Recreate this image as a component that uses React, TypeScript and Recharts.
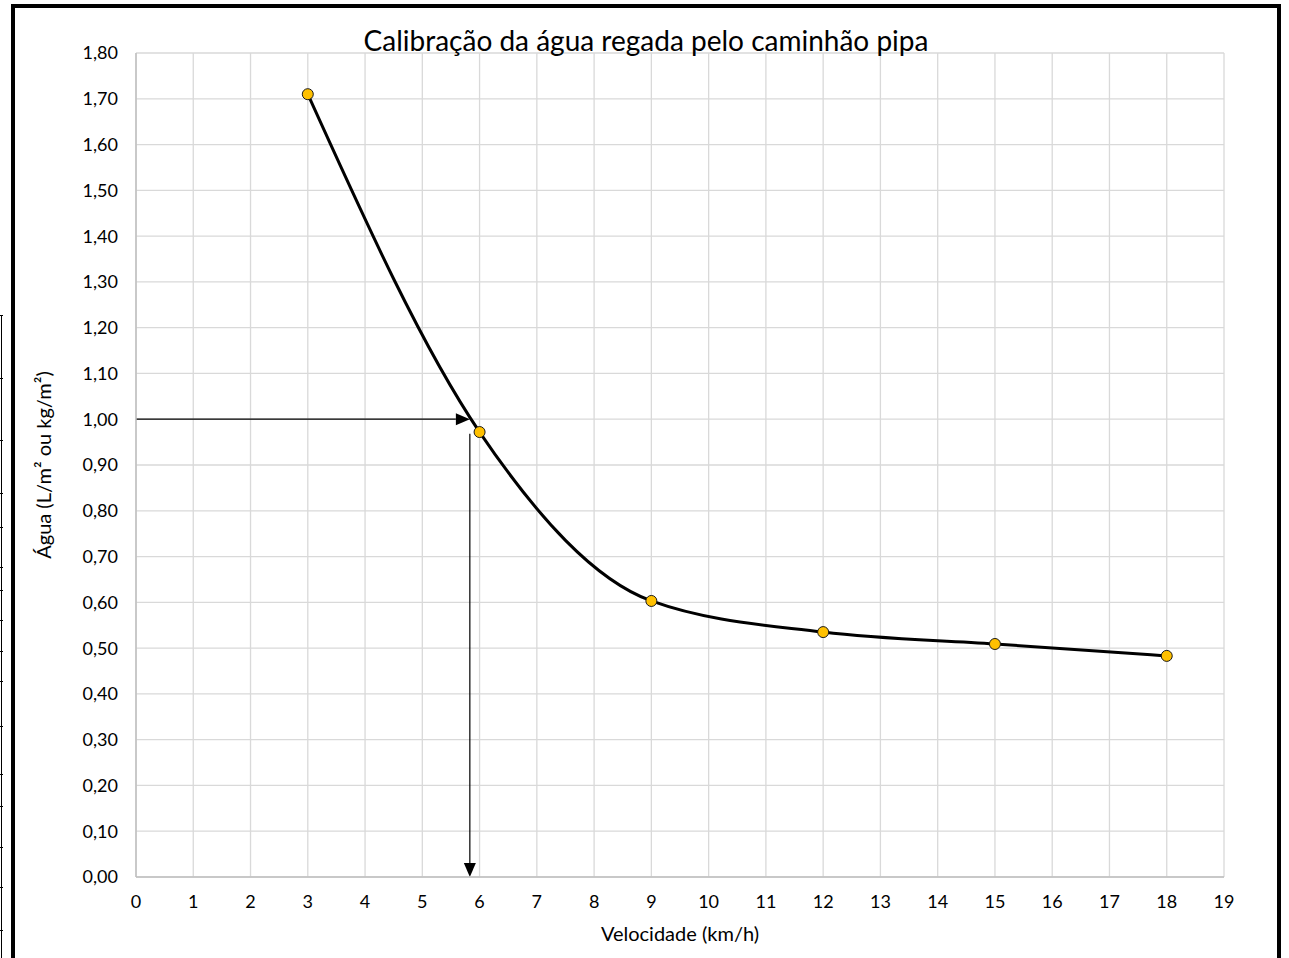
import React from 'react'
import {
  LineChart,
  Line,
  XAxis,
  YAxis,
  CartesianGrid,
  ReferenceLine,
} from 'recharts'

const velocidade = [3, 6, 9, 12, 15, 18]
const agua = [1.71, 0.972, 0.603, 0.535, 0.509, 0.483]

const xTicks = [0, 1, 2, 3, 4, 5, 6, 7, 8, 9, 10, 11, 12, 13, 14, 15, 16, 17, 18, 19]
const yTicks = [0, 0.1, 0.2, 0.3, 0.4, 0.5, 0.6, 0.7, 0.8, 0.9, 1.0, 1.1, 1.2, 1.3, 1.4, 1.5, 1.6, 1.7, 1.8]

// leitura no gráfico: 1,00 L/m² -> ~5,83 km/h
const leituraX = [0, 5.83]
const leituraY = [1.0, 0.968, 0]

// linhas das células da planilha atrás do gráfico
const cellLines = [315, 378, 440, 493, 527, 567, 590, 620, 651, 681, 726, 774, 806, 847, 887, 930]

const data = velocidade.map((v, i) => ({ v, a: agua[i] }))

const fmtY = (n: number) => n.toFixed(2).replace('.', ',')

const FONT = 'Lato, "Open Sans", sans-serif'

const Arrow = (props: any) => {
  const { x1, y1, x2, y2 } = props
  if ([x1, y1, x2, y2].some((n) => n == null || isNaN(n))) return null
  const ang = Math.atan2(y2 - y1, x2 - x1)
  const len = 14
  const half = 6
  const bx = x2 - len * Math.cos(ang)
  const by = y2 - len * Math.sin(ang)
  const px = -Math.sin(ang) * half
  const py = Math.cos(ang) * half
  return (
    <g>
      <line x1={x1} y1={y1} x2={bx} y2={by} stroke="#000" strokeWidth={1.2} />
      <polygon
        points={`${x2},${y2} ${bx + px},${by + py} ${bx - px},${by - py}`}
        fill="#000"
      />
    </g>
  )
}

export default function App() {
  return (
    <div style={PageStyle}>
      {cellLines.map((y) => (
        <div key={y} style={{ ...CellTick, top: y }} />
      ))}
      <div style={CellEdge} />
      <div style={FrameStyle} />
      <div style={TitleStyle}>Calibração da água regada pelo caminhão pipa</div>
      <div style={{ position: 'absolute', left: 0, top: 0 }}>
        <LineChart
          width={1289}
          height={958}
          data={data}
          margin={{ top: 53, right: 65, left: 36, bottom: 11 }}
          style={{ fontFamily: FONT }}
        >
          <CartesianGrid stroke="#d9d9d9" strokeWidth={1.3} />
          <XAxis
            dataKey="v"
            type="number"
            domain={[0, 19]}
            ticks={xTicks}
            interval={0}
            height={70}
            tickLine={false}
            tickMargin={12}
            axisLine={{ stroke: '#bfbfbf', strokeWidth: 1.5 }}
            tick={{ fill: '#000', fontSize: 18 }}
            label={{
              value: 'Velocidade (km/h)',
              position: 'insideBottom',
              offset: 6,
              fill: '#000',
              fontSize: 20,
            }}
          />
          <YAxis
            type="number"
            domain={[0, 1.8]}
            ticks={yTicks}
            interval={0}
            width={100}
            tickLine={false}
            tickMargin={12}
            tickFormatter={fmtY}
            axisLine={{ stroke: '#bfbfbf', strokeWidth: 1.5 }}
            tick={{ fill: '#000', fontSize: 18 }}
            label={{
              value: 'Água (L/m² ou kg/m²)',
              angle: -90,
              position: 'insideLeft',
              offset: 8,
              fill: '#000',
              fontSize: 20,
              style: { textAnchor: 'middle' },
            }}
          />
          <ReferenceLine
            segment={[
              { x: leituraX[0], y: leituraY[0] },
              { x: leituraX[1], y: leituraY[0] },
            ]}
            shape={Arrow}
          />
          <ReferenceLine
            segment={[
              { x: leituraX[1], y: leituraY[1] },
              { x: leituraX[1], y: leituraY[2] },
            ]}
            shape={Arrow}
          />
          <Line
            type="monotone"
            dataKey="a"
            stroke="#000"
            strokeWidth={3}
            dot={{ r: 5.5, fill: '#FFC000', stroke: '#1a1a1a', strokeWidth: 1 }}
            isAnimationActive={false}
          />
        </LineChart>
      </div>
    </div>
  )
}

const PageStyle: React.CSSProperties = {
  position: 'absolute',
  left: 0,
  top: 0,
  width: 1289,
  height: 958,
  overflow: 'hidden',
  background: '#fff',
}

const FrameStyle: React.CSSProperties = {
  position: 'absolute',
  left: 11,
  top: 4,
  width: 1262,
  height: 980,
  border: '4px solid #000',
  boxSizing: 'content-box',
}

const CellEdge: React.CSSProperties = {
  position: 'absolute',
  left: 1,
  top: 315,
  width: 1,
  height: 643,
  background: '#000',
}

const CellTick: React.CSSProperties = {
  position: 'absolute',
  left: 0,
  width: 3,
  height: 1,
  background: '#000',
}

const TitleStyle: React.CSSProperties = {
  position: 'absolute',
  left: 11,
  width: 1270,
  top: 23,
  textAlign: 'center',
  fontFamily: FONT,
  fontSize: 28,
  lineHeight: '34px',
  color: '#000',
  zIndex: 2,
}
